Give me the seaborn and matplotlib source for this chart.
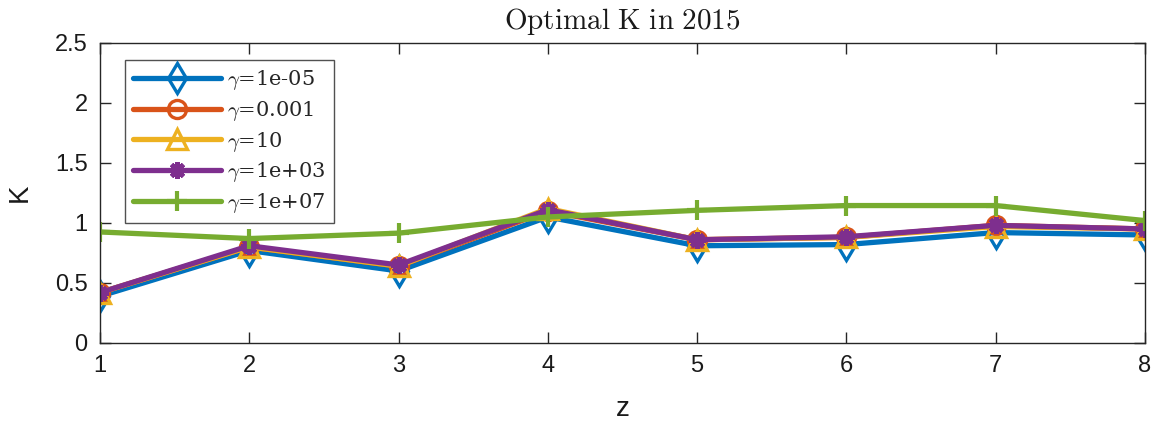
import numpy as np
import pandas as pd
import matplotlib
matplotlib.use("Agg")
import matplotlib.pyplot as plt
from matplotlib.ticker import FuncFormatter
import seaborn as sns

# z grid and optimal K for each gamma
z = [1, 2, 3, 4, 5, 6, 7, 8]
k_g1em05 = [0.39, 0.77, 0.60, 1.05, 0.81, 0.82, 0.92, 0.90]
k_g0p001 = [0.42, 0.80, 0.64, 1.10, 0.86, 0.88, 0.98, 0.95]
k_g10 = [0.42, 0.80, 0.64, 1.12, 0.86, 0.88, 0.97, 0.95]
k_g1ep03 = [0.42, 0.81, 0.65, 1.11, 0.86, 0.885, 0.98, 0.95]
k_g1ep07 = [0.925, 0.87, 0.915, 1.05, 1.105, 1.145, 1.145, 1.02]

series_labels = [r"$\gamma$=1e-05", r"$\gamma$=0.001", r"$\gamma$=10",
                 r"$\gamma$=1e+03", r"$\gamma$=1e+07"]
series_values = [k_g1em05, k_g0p001, k_g10, k_g1ep03, k_g1ep07]
colors = ["#0072BD", "#D95319", "#EDB120", "#7E2F8E", "#77AC30"]
# asterisk drawn as an 8-armed star of strokes
marker_styles = ["d", "o", "^", (8, 2, 0), "+"]
marker_sizes = [15, 13, 14, 12, 15]
edge_widths = [2.4, 2.4, 2.4, 3.2, 3.0]

sns.set_theme(style="white")
plt.rcParams["font.family"] = ["Liberation Sans", "DejaVu Sans"]
plt.rcParams["mathtext.fontset"] = "cm"

fig = plt.figure(figsize=(11.54, 4.25), dpi=100)
ax = fig.add_axes([0.0867, 0.193, 0.9053, 0.706])

handles = []
for lab, vals, c, m, ms, ew in zip(series_labels, series_values, colors,
                                   marker_styles, marker_sizes, edge_widths):
    df = pd.DataFrame({"z": z, "K": vals})
    sns.lineplot(data=df, x="z", y="K", color=c, linewidth=3.8,
                 marker=m, markersize=ms,
                 markeredgecolor=c, markeredgewidth=ew,
                 markerfacecolor="none",
                 legend=False, ax=ax)
    handles.append(ax.lines[-1])

ax.set_xlim(1, 8)
ax.set_ylim(0, 2.5)
ax.set_xticks(z)
ax.set_yticks([0, 0.5, 1, 1.5, 2, 2.5])
ax.yaxis.set_major_formatter(FuncFormatter(lambda v, p: f"{v:g}"))
ax.tick_params(axis="both", direction="in", length=8, width=1,
               labelsize=17, colors="#262626", labelcolor="#1a1a1a",
               top=True, right=True, bottom=True, left=True)
ax.tick_params(axis="x", pad=9)
ax.tick_params(axis="y", pad=9)
for s in ax.spines.values():
    s.set_visible(True)
    s.set_color("#262626")
    s.set_linewidth(1)

ax.set_xlabel("z", fontsize=20, color="#1a1a1a", labelpad=13)
ax.set_ylabel("K", fontsize=20, color="#1a1a1a", labelpad=16)
ax.set_title(r"$\mathrm{Optimal\ K\ in\ 2015}$", fontsize=21,
             color="#1a1a1a", pad=10)

leg = ax.legend(handles=handles, labels=series_labels, loc="upper left",
                bbox_to_anchor=(0.024, 0.943), borderaxespad=0,
                handlelength=4.2, handletextpad=0.3,
                labelspacing=0.32, borderpad=0.4, numpoints=1,
                fancybox=False, frameon=True,
                prop={"family": "DejaVu Serif", "size": 15})
leg.get_frame().set_edgecolor("#262626")
leg.get_frame().set_linewidth(1)

fig.savefig("out.png", dpi=100, facecolor="white")
